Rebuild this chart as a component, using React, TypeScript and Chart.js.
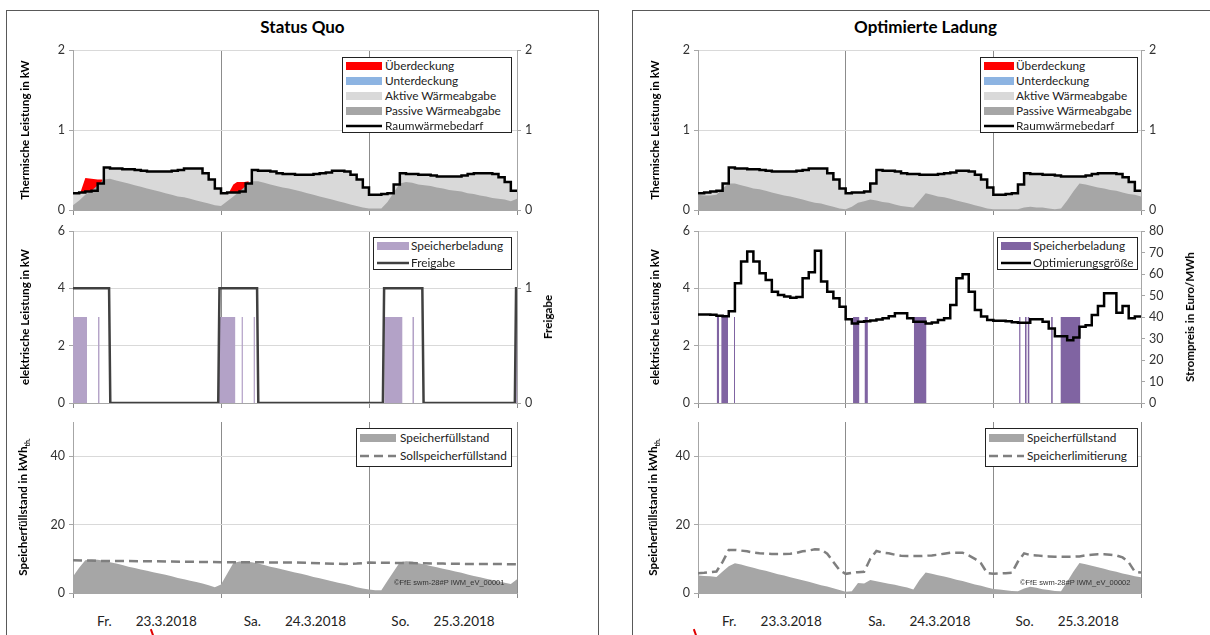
import React, { useEffect, useRef } from 'react';
import { Chart, registerables } from 'chart.js';

Chart.register(...registerables);

const FONT = 'Lato, "Open Sans", sans-serif';

// ---------------- data (time axis: hours 0..72, three days) ----------------
const hours = [...Array(73).keys()];

// Raumwärmebedarf in kW (hourly, same for both scenarios)
const raumwaermebedarf = [
  0.21, 0.22, 0.23, 0.24, 0.33, 0.53, 0.52, 0.52, 0.51, 0.51, 0.50, 0.49, 0.48, 0.48, 0.48, 0.48, 0.49, 0.50, 0.52, 0.52, 0.52, 0.46, 0.38, 0.27,
  0.21, 0.22, 0.22, 0.23, 0.33, 0.50, 0.49, 0.49, 0.48, 0.46, 0.45, 0.45, 0.44, 0.44, 0.44, 0.45, 0.46, 0.47, 0.49, 0.49, 0.48, 0.44, 0.38, 0.28,
  0.19, 0.19, 0.20, 0.21, 0.32, 0.46, 0.45, 0.45, 0.44, 0.44, 0.43, 0.42, 0.42, 0.42, 0.42, 0.43, 0.45, 0.46, 0.46, 0.46, 0.45, 0.41, 0.35, 0.24,
  0.24,
];

// Passive Wärmeabgabe in kW — Status Quo
const passivSQ = [
  0.06, 0.12, 0.19, 0.24, 0.31, 0.38, 0.39, 0.37, 0.35, 0.33, 0.31, 0.29, 0.27, 0.25, 0.23, 0.21, 0.19, 0.17, 0.16, 0.14, 0.12, 0.10, 0.08, 0.06,
  0.05, 0.11, 0.17, 0.23, 0.30, 0.36, 0.36, 0.34, 0.32, 0.30, 0.28, 0.27, 0.25, 0.23, 0.21, 0.19, 0.17, 0.15, 0.13, 0.11, 0.09, 0.07, 0.05, 0.03,
  0.02, 0.02, 0.02, 0.10, 0.22, 0.33, 0.35, 0.34, 0.32, 0.31, 0.30, 0.28, 0.27, 0.25, 0.24, 0.23, 0.21, 0.20, 0.18, 0.17, 0.15, 0.14, 0.13, 0.11,
  0.14,
];

// Passive Wärmeabgabe in kW — Optimierte Ladung
const passivOL = [
  0.19, 0.18, 0.18, 0.19, 0.27, 0.33, 0.33, 0.31, 0.29, 0.27, 0.26, 0.24, 0.22, 0.20, 0.18, 0.17, 0.15, 0.13, 0.11, 0.09, 0.08, 0.06, 0.04, 0.02,
  0.01, 0.04, 0.09, 0.11, 0.13, 0.12, 0.10, 0.09, 0.07, 0.05, 0.04, 0.03, 0.12, 0.21, 0.19, 0.17, 0.16, 0.14, 0.12, 0.10, 0.08, 0.06, 0.04, 0.02,
  0.01, 0.01, 0.01, 0.01, 0.01, 0.03, 0.04, 0.03, 0.03, 0.02, 0.01, 0.02, 0.12, 0.23, 0.33, 0.32, 0.30, 0.28, 0.27, 0.25, 0.24, 0.22, 0.20, 0.19,
  0.17,
];

// Überdeckung (total supply above demand) — Status Quo
const ueberdeckungX = [1.2, 2.0, 3.0, 4.0, 4.8, 25.3, 26.0, 26.6, 27.8, 28.5];
const ueberdeckungY = [0.22, 0.40, 0.39, 0.38, 0.38, 0.22, 0.32, 0.35, 0.35, 0.36];

// Speicherbeladung (kW) intervals
const beladungLeistung = 3;
const beladungSQStart = [0, 4.06, 23.66, 27.35, 29.3, 50.5, 55.05, 71.85];
const beladungSQEnd = [2.27, 4.29, 26.3, 27.55, 29.5, 53.4, 55.3, 72];
const beladungOLStart = [3.04, 3.8, 5.85, 25.2, 27.1, 35.1, 52.2, 53.15, 53.6, 57.4, 58.95];
const beladungOLEnd = [3.42, 4.88, 6.01, 26.2, 27.6, 37.1, 52.4, 53.4, 53.85, 57.65, 62.15];

// Freigabe (0/1)
const freigabeX = [0, 5.85, 6.05, 23.55, 23.75, 29.85, 30.05, 50.25, 50.45, 56.65, 56.85, 71.65, 71.85, 72];
const freigabeY = [1, 1, 0, 0, 1, 1, 0, 0, 1, 1, 0, 0, 1, 1];

// Optimierungsgröße (Strompreis, Euro/MWh)
const optimierung = [
  41.2, 41.2, 41.0, 40.6, 40.4, 42.7, 55.7, 65.8, 70.5, 65.8, 60.3, 57.2, 51.8, 50.2, 49.5, 49.0, 49.3, 58.0, 60.8, 70.8, 56.5, 51.8, 48.7, 44.8,
  38.9, 37.0, 37.8, 38.0, 38.4, 38.8, 39.4, 40.4, 41.7, 41.7, 39.4, 37.8, 37.8, 37.0, 37.5, 38.6, 39.4, 45.6, 58.0, 59.9, 51.8, 43.3, 40.2, 38.6,
  38.3, 38.3, 38.0, 37.6, 37.3, 37.3, 38.9, 38.9, 37.8, 34.7, 31.1, 31.1, 29.2, 30.5, 35.5, 36.2, 40.9, 45.1, 51.0, 51.0, 42.0, 45.1, 39.4, 40.2,
  40.2,
];

// Speicherfüllstand (kWh_th) — Status Quo
const fuellstandSQ = [
  4.8, 7.4, 9.6, 9.8, 9.7, 9.4, 9.0, 8.6, 8.2, 7.7, 7.3, 6.9, 6.5, 6.1, 5.7, 5.3, 4.9, 4.4, 4.0, 3.6, 3.2, 2.8, 2.3, 1.7,
  2.5, 5.6, 8.8, 9.2, 9.2, 9.0, 8.6, 8.2, 7.7, 7.3, 6.9, 6.4, 6.0, 5.6, 5.2, 4.7, 4.3, 3.9, 3.4, 3.0, 2.6, 2.2, 1.7, 1.3,
  1.0, 0.8, 0.8, 3.6, 6.3, 9.0, 9.3, 9.2, 8.7, 8.3, 7.9, 7.5, 7.1, 6.7, 6.3, 5.9, 5.4, 5.0, 4.6, 4.2, 3.8, 3.4, 3.0, 2.6,
  4.0,
];
// Sollspeicherfüllstand
const sollX = [0, 4, 8, 12, 16, 20, 24, 28, 32, 36, 40, 44, 46, 48, 52, 56, 60, 64, 68, 72];
const sollY = [9.6, 9.4, 9.35, 9.3, 9.2, 9.1, 9.0, 9.0, 8.95, 8.9, 8.7, 8.5, 8.6, 8.9, 8.8, 8.7, 8.6, 8.5, 8.5, 8.4];

// Speicherfüllstand — Optimierte Ladung
const fuellstandOL = [
  5.1, 5.0, 4.9, 4.7, 6.3, 7.8, 8.7, 8.3, 7.8, 7.4, 6.9, 6.5, 6.0, 5.5, 5.1, 4.6, 4.2, 3.7, 3.3, 2.8, 2.3, 1.9, 1.4, 0.9,
  0.4, 0.5, 2.9, 2.8, 3.8, 3.4, 3.1, 2.7, 2.4, 2.0, 1.6, 1.0, 3.8, 6.0, 5.6, 5.2, 4.8, 4.4, 3.9, 3.5, 3.0, 2.5, 2.1, 1.6,
  1.2, 1.0, 0.8, 0.6, 0.5, 1.3, 1.8, 1.5, 1.1, 0.9, 0.6, 0.5, 3.3, 6.2, 8.8, 8.4, 8.0, 7.5, 7.1, 6.6, 6.2, 5.7, 5.3, 4.9,
  4.6,
];
// Speicherlimitierung
const limitierung = [
  5.8, 5.9, 6.1, 6.3, 9.1, 12.6, 12.6, 12.4, 12.2, 11.8, 11.6, 11.5, 11.4, 11.4, 11.4, 11.5, 11.7, 12.2, 12.4, 12.8, 12.7, 11.5, 9.1, 6.7,
  5.6, 5.9, 6.1, 6.2, 10.0, 12.3, 11.8, 11.6, 11.2, 10.9, 10.8, 10.8, 10.8, 10.9, 11.0, 11.2, 11.5, 11.8, 11.8, 11.8, 11.0, 10.0, 8.7, 5.8,
  5.6, 5.7, 5.8, 5.9, 9.2, 11.6, 11.1, 11.0, 10.8, 10.7, 10.6, 10.6, 10.6, 10.6, 10.7, 11.0, 11.2, 11.3, 11.3, 11.2, 11.0, 10.4, 9.0, 6.2,
  6.0,
];

const dayNames = ['Fr.', 'Sa.', 'So.'];
const dayDates = ['23.3.2018', '24.3.2018', '25.3.2018'];

// ---------------- helpers ----------------
const series = (ys: number[]) => ys.map((y, i) => ({ x: hours[i], y }));
const seriesXY = (xs: number[], ys: number[]) => xs.map((x, i) => ({ x, y: ys[i] }));
const blocks = (starts: number[], ends: number[], level: number) => {
  const out: any[] = [];
  starts.forEach((s, i) => {
    out.push({ x: s, y: 0 }, { x: s, y: level }, { x: ends[i], y: level }, { x: ends[i], y: 0 });
  });
  return out;
};
const withGaps = (xs: number[], ys: number[]) => {
  const out: any[] = [];
  xs.forEach((x, i) => {
    if (i > 0 && x - xs[i - 1] > 5) out.push({ x: (x + xs[i - 1]) / 2, y: null });
    out.push({ x, y: ys[i] });
  });
  return out;
};

// ---------------- layout ----------------
const COLS = [
  { L: 73, R: 517, cx: 8, cw: 587 },
  { L: 698, R: 1141, cx: 634, cw: 574 },
];
const ROWS = [
  { T: 50, B: 210 },
  { T: 231, B: 403 },
  { T: 422, B: 593 },
];
const PAD_TOP = 9;
const X_H = 9;

function xScale() {
  return {
    type: 'linear',
    min: 0,
    max: 72,
    ticks: { stepSize: 24, display: false },
    grid: { color: '#8c8c8c', lineWidth: 1, drawTicks: true, tickLength: 5 },
    border: { display: true, color: '#a6a6a6' },
    afterFit: (s: any) => {
      s.height = X_H;
      s.paddingLeft = 0;
      s.paddingRight = 0;
      s.paddingTop = 0;
      s.paddingBottom = 0;
    },
  };
}

function yScale(position: string, r: { min: number; max: number; step: number }, width: number, gridOn: boolean) {
  return {
    type: 'linear',
    position,
    min: r.min,
    max: r.max,
    ticks: {
      stepSize: r.step,
      includeBounds: false,
      color: '#333',
      font: { family: FONT, size: 12.5, lineHeight: 1 },
      padding: 4,
    },
    grid: { color: '#d9d9d9', drawOnChartArea: gridOn, drawTicks: true, tickLength: 4, tickColor: '#a6a6a6' },
    border: { display: true, color: '#a6a6a6' },
    afterFit: (s: any) => {
      s.width = width;
      s.paddingTop = 0;
      s.paddingBottom = 0;
      s.paddingLeft = 0;
      s.paddingRight = 0;
    },
  };
}

function makeConfig(ci: number, datasets: any[], yLeft: any, yRight?: any) {
  const c = COLS[ci];
  const leftW = c.L - c.cx;
  const rightW = c.cx + c.cw - c.R;
  const scales: any = { x: xScale(), y: yScale('left', yLeft, leftW, true) };
  if (yRight) scales.y2 = yScale('right', yRight, rightW, false);
  return {
    type: 'line',
    data: { datasets },
    options: {
      responsive: false,
      animation: false,
      events: [],
      layout: { autoPadding: false, padding: { top: PAD_TOP, bottom: 0, left: 0, right: yRight ? 0 : rightW } },
      plugins: { legend: { display: false }, tooltip: { enabled: false } },
      elements: { point: { radius: 0 }, line: { tension: 0 } },
      scales,
    },
  };
}

function ChartCanvas({ ci, ri, build }: { ci: number; ri: number; build: () => any }) {
  const ref = useRef<HTMLCanvasElement>(null);
  const c = COLS[ci];
  const r = ROWS[ri];
  const top = r.T - PAD_TOP;
  const h = r.B - r.T + PAD_TOP + X_H;
  useEffect(() => {
    const chart = new Chart(ref.current as HTMLCanvasElement, build());
    return () => chart.destroy();
  }, []);
  return (
    <canvas
      ref={ref}
      width={c.cw}
      height={h}
      style={{ position: 'absolute', left: c.cx, top, width: c.cw, height: h }}
    />
  );
}

// ---------------- chart builders ----------------
const thermRange = { min: 0, max: 2, step: 1 };
const elRange = { min: 0, max: 6, step: 2 };
const freigabeRange = { min: 0, max: 1.5, step: 1 };
const preisRange = { min: 0, max: 80, step: 10 };
const speicherRange = { min: 0, max: 50, step: 20 };

const COL = {
  ueber: '#ff0000',
  unter: '#8db4e2',
  aktiv: '#d9d9d9',
  passiv: '#a6a6a6',
  bedarf: '#000000',
  beladungSQ: '#b3a2c7',
  beladungOL: '#8064a2',
  freigabe: '#404040',
  preis: '#000000',
  fuell: '#a6a6a6',
  soll: '#7f7f7f',
};

function thermDatasets(passiv: number[], over: any[] | null) {
  const ds: any[] = [
    { label: 'Raumwärmebedarf', data: series(raumwaermebedarf), stepped: true, borderColor: COL.bedarf, borderWidth: 2.5, fill: false, order: 0 },
    { label: 'Passive Wärmeabgabe', data: series(passiv), borderColor: 'transparent', borderWidth: 0, backgroundColor: COL.passiv, fill: 'origin', order: 1 },
    { label: 'Aktive Wärmeabgabe', data: series(raumwaermebedarf), stepped: true, borderColor: 'transparent', borderWidth: 0, backgroundColor: COL.aktiv, fill: 'origin', order: 2 },
  ];
  if (over) {
    ds.push({ label: 'Überdeckung', data: over, borderColor: 'transparent', borderWidth: 0, backgroundColor: COL.ueber, fill: { value: 0.15 }, order: 3 });
  }
  return ds;
}

const buildThermSQ = () =>
  makeConfig(0, thermDatasets(passivSQ, withGaps(ueberdeckungX, ueberdeckungY)), thermRange, thermRange);
const buildThermOL = () => makeConfig(1, thermDatasets(passivOL, null), thermRange, thermRange);

const buildElSQ = () =>
  makeConfig(
    0,
    [
      { label: 'Freigabe', data: seriesXY(freigabeX, freigabeY), yAxisID: 'y2', borderColor: COL.freigabe, borderWidth: 2.5, fill: false, order: 0 },
      { label: 'Speicherbeladung', data: blocks(beladungSQStart, beladungSQEnd, beladungLeistung), borderColor: 'transparent', borderWidth: 0, backgroundColor: COL.beladungSQ, fill: 'origin', order: 1 },
    ],
    elRange,
    freigabeRange
  );
const buildElOL = () =>
  makeConfig(
    1,
    [
      { label: 'Optimierungsgröße', data: series(optimierung), stepped: true, yAxisID: 'y2', borderColor: COL.preis, borderWidth: 2.5, fill: false, order: 0 },
      { label: 'Speicherbeladung', data: blocks(beladungOLStart, beladungOLEnd, beladungLeistung), borderColor: 'transparent', borderWidth: 0, backgroundColor: COL.beladungOL, fill: 'origin', order: 1 },
    ],
    elRange,
    preisRange
  );

const buildSpSQ = () =>
  makeConfig(
    0,
    [
      { label: 'Sollspeicherfüllstand', data: seriesXY(sollX, sollY), borderColor: COL.soll, borderWidth: 2.5, borderDash: [9, 5], fill: false, order: 0 },
      { label: 'Speicherfüllstand', data: series(fuellstandSQ), borderColor: 'transparent', borderWidth: 0, backgroundColor: COL.fuell, fill: 'origin', order: 1 },
    ],
    speicherRange
  );
const buildSpOL = () =>
  makeConfig(
    1,
    [
      { label: 'Speicherlimitierung', data: series(limitierung), borderColor: COL.soll, borderWidth: 2.5, borderDash: [9, 5], fill: false, order: 0 },
      { label: 'Speicherfüllstand', data: series(fuellstandOL), borderColor: 'transparent', borderWidth: 0, backgroundColor: COL.fuell, fill: 'origin', order: 1 },
    ],
    speicherRange
  );

// ---------------- HTML overlay pieces ----------------
type Item = { label: string; kind: 'fill' | 'line' | 'dash'; color: string };

function Legend({ x, y, w, h, rowTop, rowStep, sw, tx, items }: any) {
  return (
    <div
      style={{
        position: 'absolute',
        left: x,
        top: y,
        width: w,
        height: h,
        border: '1px solid #222',
        boxSizing: 'border-box',
        background: '#fff',
        fontFamily: FONT,
        fontSize: 11.8,
        color: '#222',
      }}
    >
      {items.map((it: Item, i: number) => {
        const cy = rowTop + i * rowStep;
        return (
          <React.Fragment key={i}>
            <svg style={{ position: 'absolute', left: 3, top: cy - 5 }} width={sw} height={10}>
              {it.kind === 'fill' ? (
                <rect x={0} y={1} width={sw} height={8} fill={it.color} />
              ) : (
                <line
                  x1={0}
                  x2={sw}
                  y1={5}
                  y2={5}
                  stroke={it.color}
                  strokeWidth={2.5}
                  strokeDasharray={it.kind === 'dash' ? '9 5' : undefined}
                />
              )}
            </svg>
            <div style={{ position: 'absolute', left: tx, top: cy - 8, lineHeight: '16px', whiteSpace: 'nowrap' }}>
              {it.label}
            </div>
          </React.Fragment>
        );
      })}
    </div>
  );
}

function VTitle({ cx, cy, children }: any) {
  return (
    <div
      style={{
        position: 'absolute',
        left: cx,
        top: cy,
        transform: 'translate(-50%, -50%) rotate(-90deg)',
        whiteSpace: 'nowrap',
        fontFamily: FONT,
        fontWeight: 700,
        fontSize: 11.6,
        lineHeight: '14px',
        color: '#000',
      }}
    >
      {children}
    </div>
  );
}

const thermItems: Item[] = [
  { label: 'Überdeckung', kind: 'fill', color: COL.ueber },
  { label: 'Unterdeckung', kind: 'fill', color: COL.unter },
  { label: 'Aktive Wärmeabgabe', kind: 'fill', color: COL.aktiv },
  { label: 'Passive Wärmeabgabe', kind: 'fill', color: COL.passiv },
  { label: 'Raumwärmebedarf', kind: 'line', color: COL.bedarf },
];

const kwhTitle = (
  <span>
    Speicherfüllstand in kWh<sub style={{ fontSize: 7 }}>th.</sub>
  </span>
);

function DayLabels({ ci }: { ci: number }) {
  const c = COLS[ci];
  const dw = (c.R - c.L) / 3;
  return (
    <>
      {dayNames.map((d, i) => (
        <div
          key={i}
          style={{
            position: 'absolute',
            left: c.L + dw * (i + 0.5),
            top: 612,
            transform: 'translateX(-50%)',
            display: 'flex',
            gap: 24,
            whiteSpace: 'nowrap',
            fontFamily: FONT,
            fontSize: 13.5,
            lineHeight: '18px',
            color: '#222',
          }}
        >
          <span>{d}</span>
          <span>{dayDates[i]}</span>
        </div>
      ))}
    </>
  );
}

export default function App() {
  return (
    <div
      style={{
        position: 'absolute',
        left: 0,
        top: 0,
        width: 1210,
        height: 635,
        overflow: 'hidden',
        background: '#fff',
        fontFamily: FONT,
      }}
    >
      {/* panel frames */}
      <div style={{ position: 'absolute', left: 6, top: 10, width: 593, height: 700, border: '1px solid #595959', boxSizing: 'border-box' }} />
      <div style={{ position: 'absolute', left: 632, top: 10, width: 700, height: 700, border: '1px solid #595959', boxSizing: 'border-box' }} />

      {/* titles */}
      <div style={{ position: 'absolute', left: 6, width: 593, top: 17, textAlign: 'center', fontWeight: 700, fontSize: 17, lineHeight: '20px' }}>
        Status Quo
      </div>
      <div style={{ position: 'absolute', left: 632, width: 587, top: 17, textAlign: 'center', fontWeight: 700, fontSize: 17, lineHeight: '20px' }}>
        Optimierte Ladung
      </div>

      {/* charts */}
      <ChartCanvas ci={0} ri={0} build={buildThermSQ} />
      <ChartCanvas ci={1} ri={0} build={buildThermOL} />
      <ChartCanvas ci={0} ri={1} build={buildElSQ} />
      <ChartCanvas ci={1} ri={1} build={buildElOL} />
      <ChartCanvas ci={0} ri={2} build={buildSpSQ} />
      <ChartCanvas ci={1} ri={2} build={buildSpOL} />

      {/* axis titles */}
      <VTitle cx={25} cy={130}>Thermische Leistung in kW</VTitle>
      <VTitle cx={25} cy={317}>elektrische Leistung in kW</VTitle>
      <VTitle cx={25} cy={507}>{kwhTitle}</VTitle>
      <VTitle cx={548} cy={317}>Freigabe</VTitle>
      <VTitle cx={655} cy={130}>Thermische Leistung in kW</VTitle>
      <VTitle cx={655} cy={317}>elektrische Leistung in kW</VTitle>
      <VTitle cx={655} cy={507}>{kwhTitle}</VTitle>
      <VTitle cx={1190} cy={317}>Strompreis in Euro/MWh</VTitle>

      {/* legends */}
      <Legend x={342} y={57} w={170} h={76} rowTop={7.5} rowStep={15.2} sw={36} tx={42} items={thermItems} />
      <Legend x={980} y={57} w={158} h={76} rowTop={7.5} rowStep={15.2} sw={30} tx={35} items={thermItems} />
      <Legend
        x={373}
        y={237}
        w={139}
        h={33}
        rowTop={8}
        rowStep={16.5}
        sw={32}
        tx={37}
        items={[
          { label: 'Speicherbeladung', kind: 'fill', color: COL.beladungSQ },
          { label: 'Freigabe', kind: 'line', color: COL.freigabe },
        ]}
      />
      <Legend
        x={997}
        y={237}
        w={141}
        h={33}
        rowTop={8}
        rowStep={16.5}
        sw={30}
        tx={35}
        items={[
          { label: 'Speicherbeladung', kind: 'fill', color: COL.beladungOL },
          { label: 'Optimierungsgröße', kind: 'line', color: COL.preis },
        ]}
      />
      <Legend
        x={356}
        y={428}
        w={156}
        h={39}
        rowTop={9}
        rowStep={18}
        sw={36}
        tx={43}
        items={[
          { label: 'Speicherfüllstand', kind: 'fill', color: COL.fuell },
          { label: 'Sollspeicherfüllstand', kind: 'dash', color: COL.soll },
        ]}
      />
      <Legend
        x={985}
        y={428}
        w={153}
        h={39}
        rowTop={9}
        rowStep={18}
        sw={35}
        tx={41}
        items={[
          { label: 'Speicherfüllstand', kind: 'fill', color: COL.fuell },
          { label: 'Speicherlimitierung', kind: 'dash', color: COL.soll },
        ]}
      />

      {/* watermarks */}
      <div style={{ position: 'absolute', left: 394, top: 578, fontFamily: '"Liberation Sans", Arial, sans-serif', fontSize: 7.5, color: '#333', whiteSpace: 'nowrap' }}>
        ©FfE swm-28#P IWM_eV_00001
      </div>
      <div style={{ position: 'absolute', left: 1020, top: 578, fontFamily: '"Liberation Sans", Arial, sans-serif', fontSize: 7.5, color: '#333', whiteSpace: 'nowrap' }}>
        ©FfE swm-28#P IWM_eV_00002
      </div>

      {/* day labels */}
      <DayLabels ci={0} />
      <DayLabels ci={1} />

      {/* small red marks at the bottom */}
      <div style={{ position: 'absolute', left: 151, top: 629, width: 2, height: 7, background: '#e00000', transform: 'rotate(-20deg)' }} />
      <div style={{ position: 'absolute', left: 694, top: 629, width: 2, height: 7, background: '#e00000', transform: 'rotate(-20deg)' }} />
    </div>
  );
}
